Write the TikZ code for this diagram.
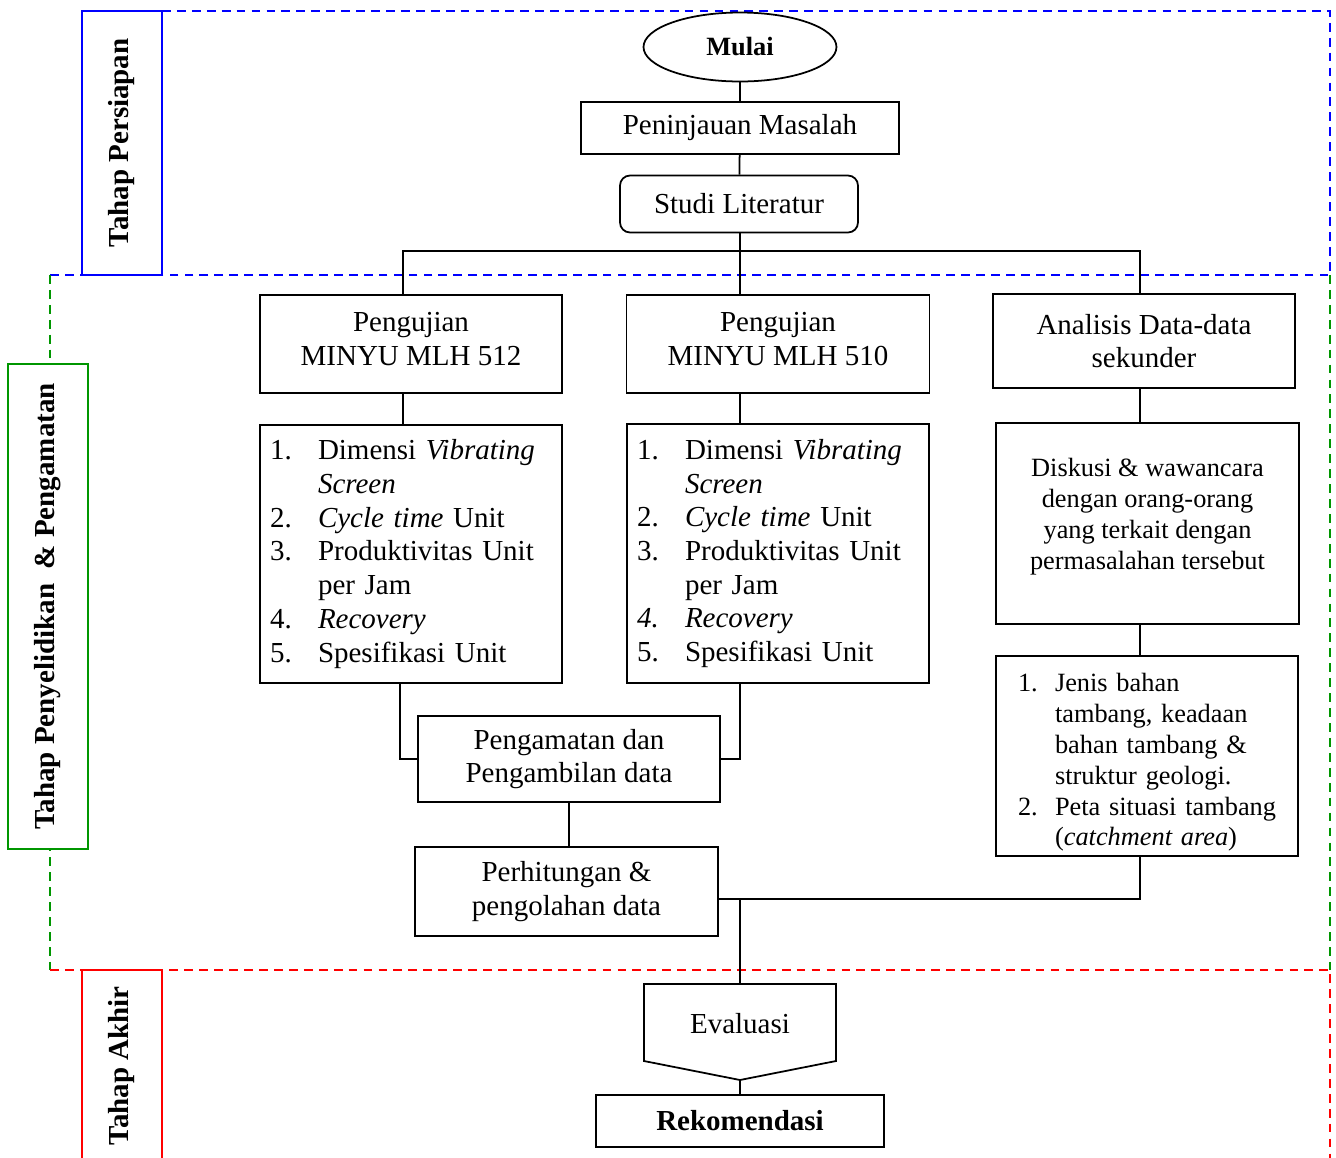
\documentclass[tikz,border=0pt]{standalone}
\usepackage{fontspec}
\setmainfont{Liberation Serif}
\usetikzlibrary{shapes.geometric}
\newcommand{\teksbesar}{\fontsize{16.5}{19.2}\selectfont}
\newcommand{\tekskecil}{\fontsize{15}{17.6}\selectfont}
\newcommand{\butir}[2][0.96cm]{\makebox[#1][l]{#2}}
\newcommand{\butirkecil}[1]{\hspace*{0.22cm}\makebox[0.74cm][l]{#1}}
\definecolor{hijau}{RGB}{0,150,0}
\tikzset{
  kotak/.style={draw, line width=1pt, align=center, inner sep=0pt, font=\teksbesar},
  daftar/.style={align=left, inner xsep=0.2cm, text width=5.64cm},
  garis/.style={line width=1pt},
  tahap/.style={line width=0.8pt, dash pattern=on 5pt off 3.5pt},
  labeltahap/.style={draw, fill=white, line width=0.8pt, rotate=90, inner sep=0pt,
    minimum height=1.6cm, font=\teksbesar\bfseries}
}

\begin{document}
\begin{tikzpicture}[x=0.02cm, y=-0.02cm]
 \useasboundingbox (0,0) rectangle (1336,1157);

 % batas tahap
 \draw[tahap, blue] (162,11) -- (1330,11) -- (1330,275) -- (50,275);
 \draw[tahap, hijau] (50,275) -- (50,970);
 \draw[tahap, hijau] (1330,275) -- (1330,970);
 \draw[tahap, red] (50,970) -- (1330,970) -- (1330,1160);
 \node[labeltahap, draw=blue, minimum width=5.28cm] (persiapan) at (122,143) {Tahap Persiapan};
 \node[labeltahap, draw=hijau, minimum width=9.7cm] (selidik) at (48,606.5) {Tahap Penyelidikan \ \& Pengamatan};
 \node[labeltahap, draw=red, minimum width=3.84cm] (akhir) at (122,1066) {Tahap Akhir};

 % kotak alir
 \node[kotak, ellipse, minimum width=3.86cm, minimum height=1.38cm, font=\fontsize{15}{18}\selectfont\bfseries] (mulai) at (740,47) {Mulai};
 \node[kotak, minimum width=6.36cm, minimum height=1.04cm] (tinjau) at (740,128) {Peninjauan Masalah};
 \node[kotak, rounded corners=0.2cm, minimum width=4.76cm, minimum height=1.14cm] (studi) at (739,204) {Studi Literatur};
 \node[kotak, minimum width=6.04cm, minimum height=1.96cm] (uji512) at (411,344) {Pengujian\\MINYU MLH 512\\[-0.48cm]};
 \node[kotak, minimum width=6.06cm, minimum height=1.96cm] (uji510) at (778,344) {Pengujian\\MINYU MLH 510\\[-0.48cm]};
 \node[kotak, minimum width=6.04cm, minimum height=1.88cm] (analisis) at (1144,341) {Analisis Data-data\\sekunder};

 \node[kotak, daftar, minimum height=5.16cm] (daftar512) at (411,554)
   {\butir{1.}Dimensi \textit{Vibrating}\\ \butir{}\textit{Screen}\\ \butir{2.}\textit{Cycle time} Unit\\
    \butir{3.}Produktivitas Unit\\ \butir{}per Jam\\ \butir{4.}\textit{Recovery}\\ \butir{5.}Spesifikasi Unit};
 \node[kotak, daftar, minimum height=5.18cm] (daftar510) at (778,553.5)
   {\butir{1.}Dimensi \textit{Vibrating}\\ \butir{}\textit{Screen}\\ \butir{2.}\textit{Cycle time} Unit\\
    \butir{3.}Produktivitas Unit\\ \butir{}per Jam\\ \butir{\textit{4.}}\textit{Recovery}\\ \butir{5.}Spesifikasi Unit};

 \node[kotak, font=\tekskecil, minimum width=6.06cm, minimum height=4.02cm] (diskusi) at (1147.5,523.5)
   {Diskusi \& wawancara\\dengan orang-orang\\yang terkait dengan\\permasalahan tersebut\\[-0.24cm]};
 \node[kotak, font=\tekskecil, align=left, inner xsep=0.22cm, text width=5.6cm, minimum height=4.0cm] (jenis) at (1147,756)
   {\mbox{}\\ \butirkecil{1.}Jenis bahan\\ \butirkecil{}tambang, keadaan\\ \butirkecil{}bahan tambang \&\\
    \butirkecil{}struktur geologi.\\ \butirkecil{2.}Peta situasi tambang\\ \butirkecil{}(\textit{catchment area})};

 \node[kotak, minimum width=6.04cm, minimum height=1.72cm] (amat) at (569,759) {Pengamatan dan\\Pengambilan data};
 \node[kotak, minimum width=6.06cm, minimum height=1.78cm] (hitung) at (566.5,891.5) {Perhitungan \&\\pengolahan data};

 \draw[garis] (644,984) -- (836,984) -- (836,1061) -- (740,1080) -- (644,1061) -- cycle;
 \node[font=\teksbesar] (evaluasi) at (740,1024) {Evaluasi};
 \coordinate (evalatas) at (740,984);
 \coordinate (evalbawah) at (740,1080);
 \node[kotak, minimum width=5.76cm, minimum height=1.04cm, font=\teksbesar\bfseries] (rekom) at (740,1121) {Rekomendasi};

 % penghubung
 \coordinate (tengah) at (740,251);
 \coordinate (cabangL) at (403,251);
 \coordinate (cabangR) at (1140,251);
 \coordinate (gabung) at (740,899);
 \draw[garis] (mulai) -- (tinjau);
 \draw[garis] (tinjau) -- (studi);
 \draw[garis] (tengah |- studi.south) -- (tengah |- uji510.north);
 \draw[garis] (cabangL |- uji512.north) -- (cabangL) -- (cabangR) -- (cabangR |- analisis.north);
 \draw[garis] (cabangL |- uji512.south) -- (cabangL |- daftar512.north);
 \draw[garis] (tengah |- uji510.south) -- (tengah |- daftar510.north);
 \draw[garis] (cabangR |- analisis.south) -- (cabangR |- diskusi.north);
 \draw[garis] (cabangR |- diskusi.south) -- (cabangR |- jenis.north);
 \draw[garis] ([xshift=-0.22cm]daftar512.south) |- (amat.west);
 \draw[garis] (tengah |- daftar510.south) |- (amat.east);
 \draw[garis] (amat.south) -- (amat.south |- hitung.north);
 \draw[garis] (cabangR |- jenis.south) |- (gabung -| hitung.east);
 \draw[garis] (gabung) -- (evalatas);
 \draw[garis] (evalbawah) -- (rekom);
\end{tikzpicture}
\end{document}
